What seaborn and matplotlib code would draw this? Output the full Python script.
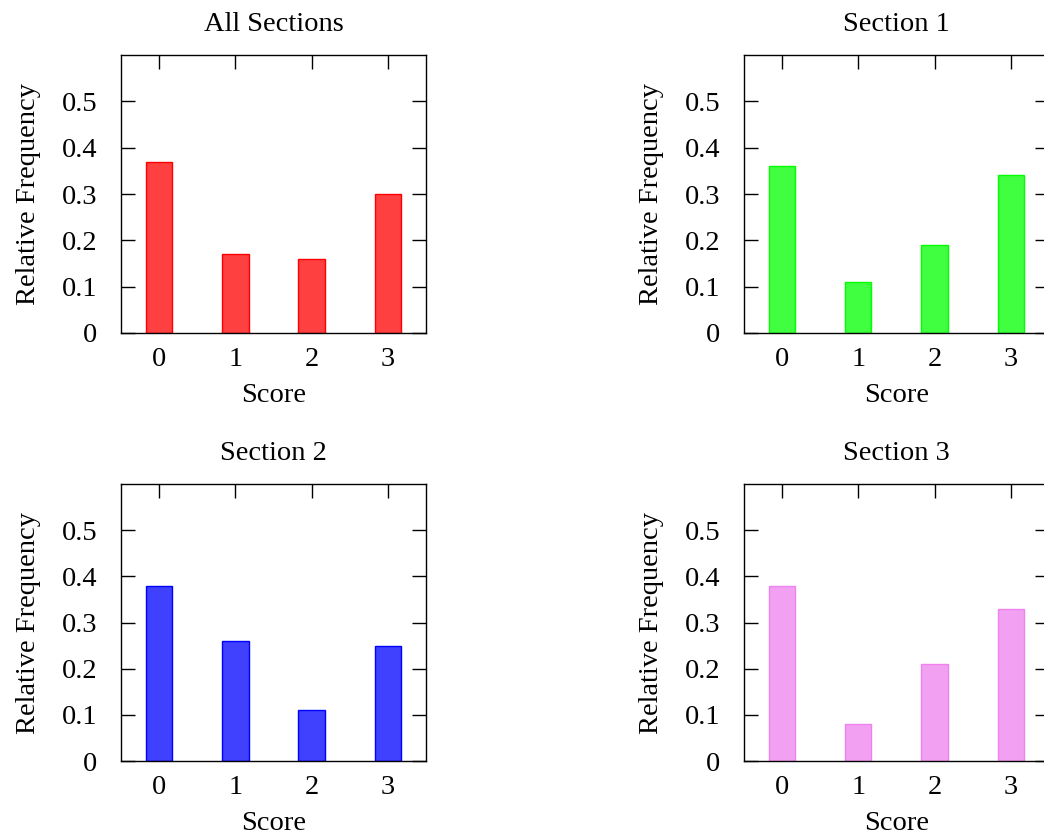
import matplotlib
matplotlib.use("Agg")
import matplotlib.pyplot as plt
import seaborn as sns
import pandas as pd

sns.set_theme(style="white")
plt.rcParams['font.family'] = ['Liberation Serif', 'DejaVu Serif']
plt.rcParams['font.size'] = 20
for k in ['text.color', 'axes.labelcolor', 'xtick.color', 'ytick.color', 'axes.edgecolor']:
    plt.rcParams[k] = 'black'

scores = ["0", "1", "2", "3"]
titles = ["All Sections", "Section 1", "Section 2", "Section 3"]
all_sections = [0.37, 0.17, 0.16, 0.30]
section1 = [0.36, 0.11, 0.19, 0.34]
section2 = [0.38, 0.26, 0.11, 0.25]
section3 = [0.38, 0.08, 0.21, 0.33]
series = [all_sections, section1, section2, section3]
fills = ["#ff4040", "#40ff40", "#4040ff", "#f2a1f2"]
edges = ["#ff0000", "#00ff00", "#0000ff", "#ee82ee"]
yticks = [0, 0.1, 0.2, 0.3, 0.4, 0.5]
ytick_labels = ["0", "0.1", "0.2", "0.3", "0.4", "0.5"]

fig = plt.figure(figsize=(10.44, 8.35), dpi=100)
positions = [
    [0.1159, 0.6012, 0.2921, 0.3329],
    [0.7126, 0.6012, 0.2921, 0.3329],
    [0.1159, 0.0886, 0.2921, 0.3317],
    [0.7126, 0.0886, 0.2921, 0.3317],
]

for pos, title, vals, fc, ec in zip(positions, titles, series, fills, edges):
    ax = fig.add_axes(pos)
    df = pd.DataFrame({"Score": scores, "Relative Frequency": vals})
    sns.barplot(data=df, x="Score", y="Relative Frequency", ax=ax,
                color=fc, saturation=1, width=0.345,
                edgecolor=ec, linewidth=1.0)
    ax.set_xlim(-0.5, 3.5)
    ax.set_ylim(0, 0.6)
    ax.set_yticks(yticks)
    ax.set_yticklabels(ytick_labels)
    ax.set_axisbelow(True)
    ax.tick_params(axis="both", direction="in", length=10, width=1,
                   color="black", labelcolor="black", labelsize=20.5)
    ax.tick_params(axis="x", top=True, bottom=True, pad=10)
    ax.tick_params(axis="y", left=True, right=True, pad=17)
    for s in ax.spines.values():
        s.set_visible(True)
        s.set_color("black")
        s.set_linewidth(1.0)
    ax.set_title(title, fontsize=20.5, pad=17, color="black")
    ax.set_xlabel("Score", fontsize=20.5, labelpad=8, color="black")
    ax.set_ylabel("Relative Frequency", fontsize=20.5, labelpad=15, color="black")
    ax.grid(False)

fig.savefig("out.png", dpi=100)
